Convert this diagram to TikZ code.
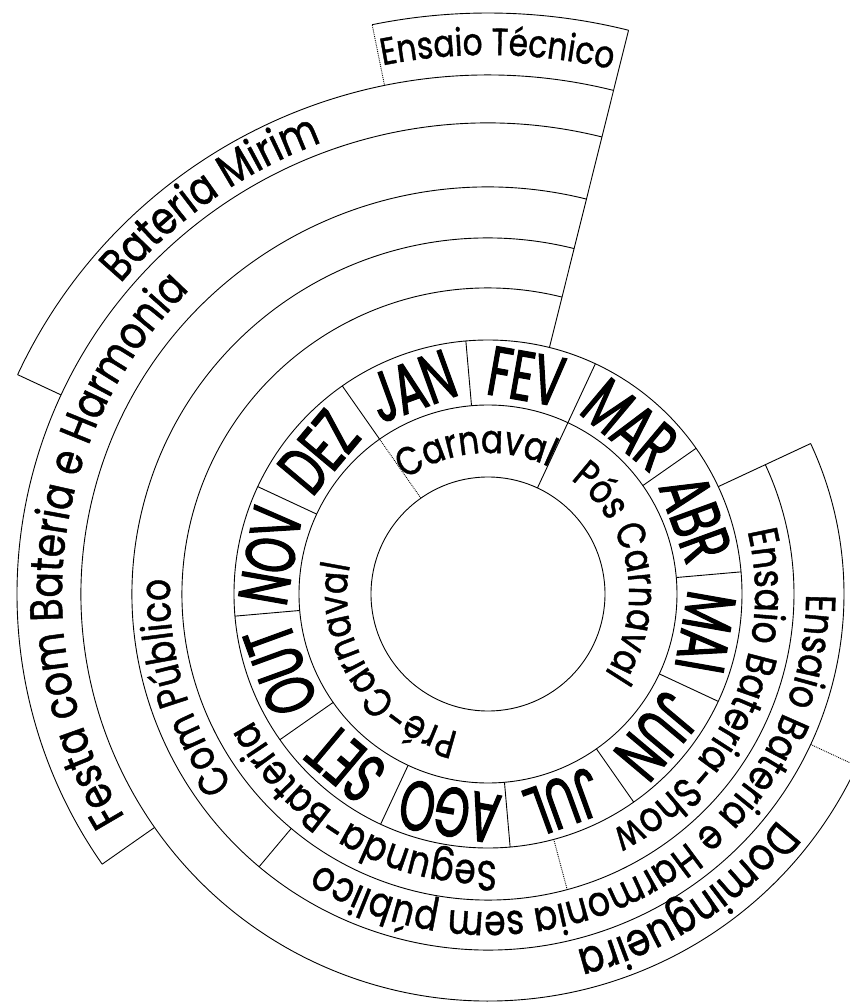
\documentclass[tikz,border=0pt]{standalone}
\usepackage{fontspec}
\setmainfont{Poppins}
\newfontfamily\gothic[FakeStretch=0.82, FakeBold=1]{Poppins}
\newfontfamily\narrowgothic[FakeStretch=0.64, FakeBold=1.5]{Poppins}
\usetikzlibrary{decorations.text}

% font sizes of the curved labels
\newcommand\phasetext{\gothic\fontsize{40}{40}\selectfont}
\newcommand\bandtext{\gothic\fontsize{42}{42}\selectfont}
\newcommand\widetext{\gothic\fontsize{46}{46}\selectfont}
\newcommand\toptext{\gothic\fontsize{38}{38}\selectfont}

\begin{document}
\begin{tikzpicture}[
		x=1pt, y=1pt,
		line width=0.9pt,
		faint/.style={densely dotted},
		monthlabel/.style={font=\narrowgothic\fontsize{70}{70}\selectfont, inner sep=0pt},
		arctext/.style={decorate, decoration={text along path, text align=center, text={#1}}}
		]
		\useasboundingbox (-488,-408) rectangle (362,594);
		\clip (-488,-408) rectangle (362,594);

		% Inner rings
		\draw (0,0) circle[radius=117];
		\draw (0,0) circle[radius=189];
		\draw (0,0) circle[radius=254];
		\draw (65:117) -- (65:189);
		\draw[faint] (125:117) -- (125:189);

		% Months
		\foreach \a in {5,35,...,335}
			\draw (\a:189) -- (\a:254);
		\foreach \m [count=\i] in {JAN,FEV,MAR,ABR,MAI,JUN,JUL,AGO,SET,OUT,NOV,DEZ}{
			\pgfmathsetmacro\ang{140-30*\i}
			\node[monthlabel, rotate=\ang-90] (m\i) at (\ang:221) {\m};
		}

		% Outer bands
		\draw (76:306) arc[start angle=76, end angle=385, radius=306];
		\draw (76:356) arc[start angle=76, end angle=385, radius=356];
		\draw (76:407) arc[start angle=76, end angle=335, radius=407];
		\draw (76:471) arc[start angle=76, end angle=215, radius=471];
		\draw (76:519) arc[start angle=76, end angle=155, radius=519];
		\draw (76:581) arc[start angle=76, end angle=101.5, radius=581];
		\draw (76:254) -- (76:581);
		\draw (25:254) -- (25:356);
		\draw[faint] (-75:254) -- (-75:306);
		\draw (230:306) -- (230:356);
		\draw[faint] (-25:356) -- (-25:420);
		\draw (215:407) -- (215:471);
		\draw (155:471) -- (155:519);
		\draw[faint] (101.5:519) -- (101.5:581);

		% Labels
		\path[arctext={|\phasetext|Carnaval}] (135:141) arc[start angle=135, end angle=55, radius=141];
		\path[arctext={|\phasetext|Pós Carnaval}] (70:141) arc[start angle=70, end angle=-50, radius=141];
		\path[arctext={|\phasetext|Pré-Carnaval}] (273:141) arc[start angle=273, end angle=153, radius=141];
		\path[arctext={|\bandtext|Segunda-Bateria}] (290:267) arc[start angle=290, end angle=190, radius=267];
		\path[arctext={|\bandtext|Ensaio Bateria-Show}] (30:267) arc[start angle=30, end angle=-79, radius=267];
		\path[arctext={|\bandtext|Com Público}] (225:318) arc[start angle=225, end angle=169, radius=318];
		\path[arctext={|\bandtext|Ensaio Bateria e Harmonia sem público}] (10:318) arc[start angle=10, end angle=-132, radius=318];
		\path[arctext={|\widetext|Domingueira}] (-20:367) arc[start angle=-20, end angle=-94, radius=367];
		\path[arctext={|\widetext|Festa com Bateria e Harmonia}] (215:426) arc[start angle=215, end angle=131, radius=426];
		\path[arctext={|\widetext|Bateria Mirim}] (150:481) arc[start angle=150, end angle=100, radius=481];
		\path[arctext={|\toptext|Ensaio Técnico}] (105:539) arc[start angle=105, end angle=73, radius=539];
\end{tikzpicture}
\end{document}
